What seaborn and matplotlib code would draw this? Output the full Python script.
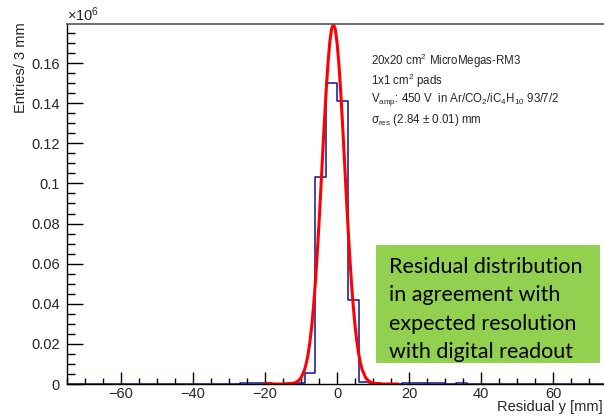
import numpy as np
import pandas as pd
import matplotlib
matplotlib.use("Agg")
import matplotlib.pyplot as plt
import seaborn as sns
from matplotlib.patches import Rectangle
from matplotlib.ticker import MultipleLocator

# ---------------- data (in units of 10^6 entries) ----------------
bin_range = (-75, 75)
bin_width = 3
hist_centers = [-25.5, -22.5, -19.5, -10.5, -7.5, -4.5, -1.5, 1.5, 4.5, 7.5,
                10.5, 19.5, 22.5, 25.5, 28.5, 34.5]
hist_values = [0.0003, 0.0003, 0.0003, 0.0006, 0.0053, 0.103, 0.150, 0.1413,
               0.0419, 0.0011, 0.0005, 0.0003, 0.0003, 0.0003, 0.0003, 0.0004]

fit_x = [-20, -15, -12, -11, -10, -9, -8.5, -8, -7.5, -7, -6.5, -6, -5.5, -5,
         -4.5, -4, -3.5, -3, -2.5, -2, -1.5, -1, -0.5, 0, 0.5, 1, 1.5, 2, 2.5,
         3, 3.5, 4, 4.5, 5, 5.5, 6, 6.5, 7, 8, 9, 10, 13, 17]
fit_y = [0.0, 0.0, 0.0004, 0.0012, 0.0030, 0.0071, 0.0106, 0.0152, 0.0214,
         0.0292, 0.0391, 0.0509, 0.0647, 0.0801, 0.0967, 0.1140, 0.1309,
         0.1466, 0.1601, 0.1705, 0.1771, 0.1793, 0.1771, 0.1705, 0.1601,
         0.1466, 0.1309, 0.1140, 0.0967, 0.0801, 0.0647, 0.0509, 0.0391,
         0.0292, 0.0214, 0.0152, 0.0106, 0.0071, 0.0030, 0.0012, 0.0004,
         0.0, 0.0]

x_major_ticks = [-60, -40, -20, 0, 20, 40, 60]
y_major_ticks = [0, 0.02, 0.04, 0.06, 0.08, 0.1, 0.12, 0.14, 0.16]
y_tick_labels = ["0", "0.02", "0.04", "0.06", "0.08", "0.1", "0.12", "0.14", "0.16"]

info_lines = [
    "20x20 cm$^{2}$ MicroMegas-RM3",
    "1x1 cm$^{2}$ pads",
    "V$_{\\rm amp}$: 450 V  in Ar/CO$_{2}$/iC$_{4}$H$_{10}$ 93/7/2",
    "\u03c3$_{\\rm res}$ (2.84 \u00b1 0.01) mm",
]
box_lines = [
    "Residual distribution",
    "in agreement with",
    "expected resolution",
    "with digital readout",
]

# ---------------- style ----------------
sns.set_style("ticks")
plt.rcParams["font.family"] = ["Liberation Sans", "DejaVu Sans"]
plt.rcParams["mathtext.fontset"] = "custom"
plt.rcParams["mathtext.rm"] = "Liberation Sans"
plt.rcParams["mathtext.it"] = "Liberation Sans:italic"
plt.rcParams["mathtext.bf"] = "Liberation Sans:bold"
plt.rcParams["mathtext.sf"] = "Liberation Sans"

W, H = 604, 417
fig = plt.figure(figsize=(W / 100, H / 100), dpi=100)
L, R, T, B = 67, 607, 24, 384
ax = fig.add_axes([L / W, 1 - B / H, (R - L) / W, (B - T) / H])

hist_df = pd.DataFrame({"x": hist_centers, "w": hist_values})
sns.histplot(data=hist_df, x="x", weights="w", binwidth=bin_width,
             binrange=bin_range, element="step", fill=False,
             color="#14148c", linewidth=1.1, ax=ax)

fit_df = pd.DataFrame({"x": fit_x, "y": fit_y})
sns.lineplot(data=fit_df, x="x", y="y", color="#ff0000", linewidth=2.2,
             ax=ax, sort=False)

ax.set_xlim(-75, 75)
ax.set_ylim(0, 0.1795)
ax.set_xlabel("")
ax.set_ylabel("")
ax.set_xticks(x_major_ticks)
ax.xaxis.set_minor_locator(MultipleLocator(5))
ax.set_yticks(y_major_ticks)
ax.set_yticklabels(y_tick_labels)
ax.yaxis.set_minor_locator(MultipleLocator(0.005))

ax.tick_params(axis="both", which="both", direction="in", labelsize=10.5,
               color="black", width=1.0)
ax.tick_params(axis="x", which="major", length=8.5, pad=2.5)
ax.tick_params(axis="x", which="minor", length=4.2)
ax.tick_params(axis="y", which="major", length=11.5, pad=5)
ax.tick_params(axis="y", which="minor", length=5.8)

for s in ["left", "bottom"]:
    ax.spines[s].set_color("black")
    ax.spines[s].set_linewidth(1.0)
ax.spines["top"].set_visible(True)
ax.spines["top"].set_color("#555555")
ax.spines["top"].set_linewidth(1.2)
ax.spines["right"].set_visible(False)

# axis titles
fig.text(L / W, 1 - 21 / H, "\u00d710$^{6}$", fontsize=10.5, ha="left",
         va="baseline")
fig.text(21 / W, 1 - 22 / H, "Entries/ 3 mm", rotation=90, fontsize=10.5,
         ha="center", va="top")
fig.text(603 / W, 1 - 411 / H, "Residual y [mm]", fontsize=10.5, ha="right",
         va="baseline")

# info text
for i, line in enumerate(info_lines):
    fig.text(371 / W, 1 - (61 + 19.5 * i) / H, line, fontsize=8.3, ha="left",
             va="center")

# green box
fig.patches.append(Rectangle((376 / W, 1 - 363 / H), (600 - 376) / W,
                             (363 - 245) / H, transform=fig.transFigure,
                             facecolor="#92d050", edgecolor="none", zorder=5))
for i, line in enumerate(box_lines):
    fig.text(389 / W, 1 - (267 + 28.3 * i) / H, line, fontsize=15.5,
             family=["Lato", "DejaVu Sans"], ha="left", va="center",
             color="black", zorder=6)

fig.savefig("out.png", dpi=100)
